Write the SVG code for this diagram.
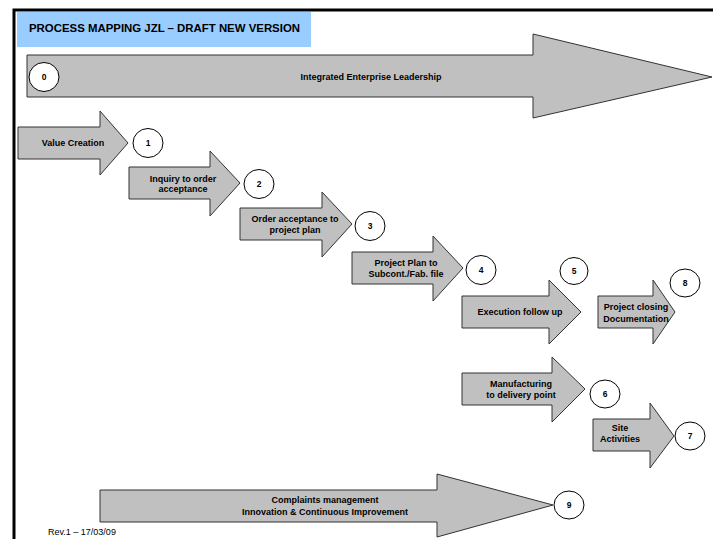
<svg xmlns="http://www.w3.org/2000/svg" width="713" height="539" viewBox="0 0 713 539">
  <style>
    .frame { fill: none; stroke: #000; stroke-width: 3; }
    .arrow { fill: #C0C0C0; stroke: #333; stroke-width: 1; stroke-linejoin: miter; }
    .badge { fill: #fff; stroke: #000; stroke-width: 1; }
    .lbl { font-family: "Liberation Sans", Arial, sans-serif; font-size: 9px; font-weight: bold; fill: #000; text-anchor: middle; }
    .num { font-family: "Liberation Sans", Arial, sans-serif; font-size: 8.5px; font-weight: bold; fill: #000; text-anchor: middle; }
    .title { font-family: "Liberation Sans", Arial, sans-serif; font-size: 11px; font-weight: bold; fill: #000; }
    .rev { font-family: "Liberation Sans", Arial, sans-serif; font-size: 9px; fill: #000; }
  </style>
  <rect width="713" height="539" fill="#fff"/>

  <!-- page frame -->
  <polyline class="frame" points="14,539 14,10 713,10"/>

  <!-- header -->
  <g id="header">
    <rect x="17" y="12" width="294" height="35" fill="#99CCFF"/>
    <text class="title" x="29" y="32" textLength="271" lengthAdjust="spacingAndGlyphs">PROCESS MAPPING JZL – DRAFT NEW VERSION</text>
  </g>

  <g id="connectors"/>

  <!-- 0: overarching leadership arrow -->
  <g id="n0">
    <polygon class="arrow" points="27,55 533,55 533,34 712,77 533,118 533,97 27,97"/>
    <text class="lbl" x="371" y="80">Integrated Enterprise Leadership</text>
    <ellipse class="badge" cx="44" cy="77" rx="15" ry="14.5"/>
    <text class="num" x="44" y="80">0</text>
  </g>

  <!-- 1 -->
  <g id="n1">
    <polygon class="arrow" points="18,127 100,127 100,111 128,143 100,175 100,159 18,159"/>
    <text class="lbl" x="73" y="146">Value Creation</text>
    <ellipse class="badge" cx="148" cy="143" rx="15" ry="14.5"/>
    <text class="num" x="148" y="146">1</text>
  </g>

  <!-- 2 -->
  <g id="n2">
    <polygon class="arrow" points="129,167 210,167 210,151 240,183 210,216 210,199 129,199"/>
    <text class="lbl" x="183" y="182">Inquiry to order</text>
    <text class="lbl" x="183" y="192">acceptance</text>
    <ellipse class="badge" cx="259" cy="184" rx="15" ry="14.5"/>
    <text class="num" x="259" y="187">2</text>
  </g>

  <!-- 3 -->
  <g id="n3">
    <polygon class="arrow" points="240,208 322,208 322,192 352,224 322,257 322,240 240,240"/>
    <text class="lbl" x="295" y="222">Order acceptance to</text>
    <text class="lbl" x="295" y="233">project plan</text>
    <ellipse class="badge" cx="370" cy="226" rx="15" ry="14.5"/>
    <text class="num" x="370" y="229">3</text>
  </g>

  <!-- 4 -->
  <g id="n4">
    <polygon class="arrow" points="352,252 433,252 433,236 463,268 433,301 433,284 352,284"/>
    <text class="lbl" x="406" y="266">Project Plan to</text>
    <text class="lbl" x="406" y="277">Subcont./Fab. file</text>
    <ellipse class="badge" cx="481" cy="270" rx="15" ry="14.5"/>
    <text class="num" x="481" y="273">4</text>
  </g>

  <!-- 5 -->
  <g id="n5">
    <polygon class="arrow" points="462,296 549,296 549,280 581,312 549,344 549,328 462,328"/>
    <text class="lbl" x="520" y="315">Execution follow up</text>
    <ellipse class="badge" cx="574" cy="271" rx="14" ry="13.5"/>
    <text class="num" x="574" y="274">5</text>
  </g>

  <!-- 8 -->
  <g id="n8">
    <polygon class="arrow" points="598,296 653,296 653,280 675,312 653,344 653,328 598,328"/>
    <text class="lbl" x="636" y="310">Project closing</text>
    <text class="lbl" x="636" y="322">Documentation</text>
    <ellipse class="badge" cx="685" cy="283" rx="15" ry="14"/>
    <text class="num" x="685" y="286">8</text>
  </g>

  <!-- 6 -->
  <g id="n6">
    <polygon class="arrow" points="462,373 552,373 552,357 585,389 552,422 552,405 462,405"/>
    <text class="lbl" x="521" y="387">Manufacturing</text>
    <text class="lbl" x="521" y="398">to delivery point</text>
    <ellipse class="badge" cx="605" cy="394" rx="15" ry="14"/>
    <text class="num" x="605" y="397">6</text>
  </g>

  <!-- 7 -->
  <g id="n7">
    <polygon class="arrow" points="593,419 650,419 650,403 674,436 650,468 650,451 593,451"/>
    <text class="lbl" x="620" y="431">Site</text>
    <text class="lbl" x="620" y="442">Activities</text>
    <ellipse class="badge" cx="690" cy="436" rx="15" ry="14"/>
    <text class="num" x="690" y="439">7</text>
  </g>

  <!-- 9 -->
  <g id="n9">
    <polygon class="arrow" points="100,490 437,490 437,474 553,505 437,537 437,522 100,522"/>
    <text class="lbl" x="325" y="503">Complaints management</text>
    <text class="lbl" x="325" y="515">Innovation &amp; Continuous Improvement</text>
    <ellipse class="badge" cx="569" cy="505" rx="15" ry="14"/>
    <text class="num" x="569" y="508">9</text>
  </g>

  <text class="rev" x="48" y="535">Rev.1 – 17/03/09</text>
</svg>
